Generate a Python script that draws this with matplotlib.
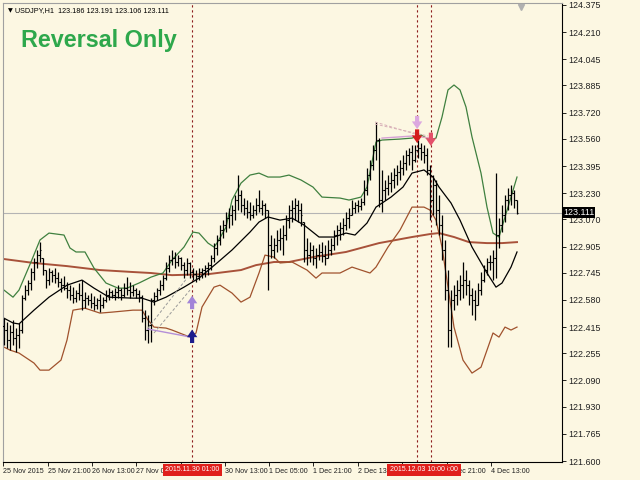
import matplotlib
matplotlib.use("Agg")
import matplotlib.pyplot as plt
import numpy as np

# ---- USDJPY H1 bars ----
highs = [122.469, 122.446, 122.428, 122.458, 122.409, 122.440, 122.610, 122.670, 122.701, 122.774,
         122.835, 122.884, 122.932, 122.835, 122.762, 122.774, 122.762, 122.774, 122.750, 122.713,
         122.725, 122.689, 122.670, 122.658, 122.640, 122.683, 122.701, 122.628, 122.610, 122.622,
         122.603, 122.591, 122.616, 122.597, 122.640, 122.652, 122.640, 122.652, 122.670, 122.652,
         122.683, 122.719, 122.689, 122.670, 122.652, 122.640, 122.610, 122.518, 122.488, 122.591,
         122.628, 122.652, 122.701, 122.731, 122.811, 122.853, 122.884, 122.872, 122.853, 122.841,
         122.811, 122.835, 122.811, 122.774, 122.762, 122.774, 122.774, 122.792, 122.811, 122.853,
         122.926, 122.975, 123.036, 123.066, 123.115, 123.139, 123.158, 123.218, 123.340, 123.249,
         123.200, 123.188, 123.176, 123.158, 123.200, 123.249, 123.188, 123.170, 123.127, 122.975,
         122.957, 123.005, 123.018, 123.036, 123.097, 123.158, 123.188, 123.200, 123.188, 123.170,
         123.054, 122.957, 122.932, 122.914, 122.896, 122.920, 122.932, 122.914, 122.945, 122.957,
         123.005, 123.036, 123.054, 123.078, 123.115, 123.139, 123.188, 123.176, 123.188, 123.200,
         123.310, 123.383, 123.431, 123.523, 123.663, 123.565, 123.371, 123.310, 123.340, 123.358,
         123.383, 123.401, 123.431, 123.462, 123.492, 123.504, 123.523, 123.523, 123.553, 123.535,
         123.523, 123.504, 123.401, 123.340, 123.310, 123.218, 123.097, 122.945, 122.762, 122.640,
         122.670, 122.701, 122.731, 122.811, 122.762, 122.701, 122.652, 122.640, 122.683, 122.750,
         122.792, 122.835, 122.853, 122.884, 123.352, 123.078, 123.158, 123.218, 123.261, 123.279,
         123.249, 123.191]
lows = [122.306, 122.287, 122.275, 122.306, 122.263, 122.287, 122.379, 122.579, 122.610, 122.640,
        122.701, 122.774, 122.811, 122.731, 122.652, 122.670, 122.689, 122.683, 122.658, 122.628,
        122.640, 122.591, 122.579, 122.561, 122.567, 122.579, 122.518, 122.530, 122.549, 122.530,
        122.518, 122.524, 122.506, 122.530, 122.567, 122.579, 122.591, 122.579, 122.591, 122.579,
        122.597, 122.610, 122.591, 122.603, 122.591, 122.567, 122.446, 122.336, 122.318, 122.324,
        122.549, 122.579, 122.610, 122.640, 122.701, 122.750, 122.792, 122.774, 122.786, 122.762,
        122.713, 122.731, 122.713, 122.701, 122.689, 122.701, 122.713, 122.719, 122.731, 122.762,
        122.811, 122.853, 122.914, 122.957, 122.993, 123.018, 123.036, 123.066, 123.127, 123.115,
        123.097, 123.078, 123.066, 123.078, 123.097, 123.115, 123.097, 123.078, 122.640, 122.835,
        122.835, 122.872, 122.884, 122.853, 122.945, 123.018, 123.054, 123.066, 123.054, 123.030,
        122.811, 122.792, 122.811, 122.792, 122.774, 122.823, 122.811, 122.792, 122.835, 122.853,
        122.884, 122.914, 122.945, 122.975, 123.005, 123.018, 123.097, 123.109, 123.115, 123.127,
        123.158, 123.218, 123.310, 123.371, 123.431, 123.145, 123.115, 123.188, 123.218, 123.237,
        123.261, 123.279, 123.310, 123.340, 123.371, 123.401, 123.371, 123.419, 123.444, 123.431,
        123.413, 123.340, 123.066, 123.097, 123.036, 122.975, 122.823, 122.579, 122.293, 122.293,
        122.518, 122.549, 122.579, 122.591, 122.610, 122.549, 122.488, 122.458, 122.549, 122.610,
        122.689, 122.731, 122.762, 122.701, 122.713, 122.896, 122.993, 123.054, 123.127, 123.158,
        123.139, 123.106]
closes = [122.397, 122.336, 122.385, 122.348, 122.367, 122.397, 122.591, 122.640, 122.683, 122.750,
          122.811, 122.853, 122.884, 122.762, 122.701, 122.750, 122.731, 122.713, 122.689, 122.670,
          122.652, 122.640, 122.610, 122.591, 122.622, 122.610, 122.579, 122.591, 122.579, 122.561,
          122.549, 122.579, 122.549, 122.579, 122.610, 122.628, 122.610, 122.628, 122.640, 122.610,
          122.652, 122.640, 122.628, 122.640, 122.616, 122.597, 122.470, 122.397, 122.428, 122.579,
          122.603, 122.640, 122.670, 122.713, 122.774, 122.823, 122.835, 122.811, 122.835, 122.792,
          122.762, 122.805, 122.750, 122.737, 122.725, 122.750, 122.762, 122.774, 122.792, 122.835,
          122.896, 122.945, 123.005, 123.036, 123.078, 123.097, 123.127, 123.188, 123.218, 123.158,
          123.139, 123.115, 123.097, 123.127, 123.158, 123.139, 123.158, 123.127, 122.914, 122.884,
          122.914, 122.945, 122.957, 122.975, 123.066, 123.127, 123.139, 123.158, 123.127, 123.097,
          122.884, 122.853, 122.884, 122.835, 122.853, 122.872, 122.847, 122.835, 122.884, 122.914,
          122.975, 123.005, 123.018, 123.036, 123.078, 123.097, 123.139, 123.158, 123.152, 123.176,
          123.249, 123.340, 123.401, 123.492, 123.553, 123.188, 123.249, 123.261, 123.291, 123.310,
          123.340, 123.358, 123.383, 123.413, 123.462, 123.480, 123.431, 123.492, 123.504, 123.480,
          123.462, 123.371, 123.188, 123.279, 123.127, 123.036, 122.884, 122.640, 122.397, 122.579,
          122.610, 122.640, 122.670, 122.701, 122.670, 122.610, 122.579, 122.549, 122.640, 122.701,
          122.762, 122.811, 122.811, 122.835, 122.975, 123.036, 123.097, 123.188, 123.218, 123.231,
          123.186, 123.111]
first_open = 122.420

# ---- indicator lines (bar index, price) ----
bb_up_idx = [0, 3, 5, 9, 12, 15, 20, 22, 24, 27, 30, 34, 38, 41, 45, 49, 53, 56, 60, 63, 65, 68, 70, 71,
             74, 76, 79, 82, 85, 88, 92, 95, 99, 103, 106, 112, 115, 119, 121, 123, 124, 126, 132, 136,
             139, 142, 144, 146, 148, 150, 152, 154, 156, 159, 161, 163, 165, 168, 170, 171]
bb_up = [122.640, 122.597, 122.640, 122.811, 122.945, 122.987, 122.975, 122.896, 122.872, 122.872,
         122.774, 122.683, 122.652, 122.652, 122.683, 122.719, 122.744, 122.823, 122.902, 122.993,
         122.987, 122.926, 122.902, 122.926, 123.023, 123.188, 123.291, 123.340, 123.352, 123.328,
         123.328, 123.340, 123.310, 123.267, 123.206, 123.200, 123.188, 123.206, 123.267, 123.450,
         123.541, 123.553, 123.559, 123.565, 123.584, 123.553, 123.565, 123.693, 123.858, 123.888,
         123.858, 123.754, 123.572, 123.352, 123.145, 122.987, 122.963, 123.145, 123.267, 123.328]
bb_mid_idx = [0, 3, 5, 10, 15, 21, 26, 30, 35, 43, 46, 50, 54, 60, 65, 71, 76, 82, 85, 88, 92, 96, 100,
              105, 110, 114, 117, 121, 124, 129, 133, 136, 140, 143, 145, 149, 152, 156, 161, 164, 166,
              169, 171]
bb_mid = [122.469, 122.440, 122.434, 122.518, 122.597, 122.670, 122.701, 122.652, 122.597, 122.591,
          122.591, 122.567, 122.597, 122.658, 122.713, 122.805, 122.884, 122.993, 123.054, 123.085,
          123.066, 123.078, 123.036, 122.963, 122.963, 122.987, 122.975, 123.048, 123.145, 123.206,
          123.267, 123.352, 123.371, 123.328, 123.267, 123.170, 123.066, 122.902, 122.744, 122.658,
          122.683, 122.780, 122.872]
bb_low_idx = [0, 2, 5, 10, 12, 15, 19, 21, 23, 27, 32, 36, 43, 46, 48, 50, 54, 56, 62, 64, 66, 70, 72,
              76, 79, 82, 85, 87, 90, 92, 96, 101, 104, 106, 112, 116, 122, 124, 128, 132, 136, 140,
              142, 144, 146, 148, 150, 153, 156, 159, 161, 163, 165, 167, 169, 171]
bb_low = [122.293, 122.275, 122.257, 122.196, 122.153, 122.153, 122.214, 122.336, 122.518, 122.530,
          122.500, 122.506, 122.518, 122.518, 122.458, 122.415, 122.409, 122.397, 122.354, 122.379,
          122.537, 122.658, 122.670, 122.622, 122.567, 122.597, 122.744, 122.853, 122.841, 122.805,
          122.811, 122.762, 122.713, 122.744, 122.744, 122.780, 122.744, 122.780, 122.902, 123.005,
          123.145, 123.145, 123.127, 123.066, 122.902, 122.658, 122.415, 122.214, 122.135, 122.171,
          122.275, 122.379, 122.354, 122.415, 122.397, 122.415]
ma_idx = [0, 10, 21, 32, 43, 49, 56, 68, 79, 84, 90, 95, 103, 114, 125, 136, 142, 145, 150, 155, 161,
          166, 171]
ma_long = [122.829, 122.805, 122.786, 122.762, 122.750, 122.744, 122.731, 122.737, 122.762, 122.792,
           122.811, 122.811, 122.841, 122.872, 122.926, 122.963, 122.981, 122.987, 122.963, 122.932,
           122.926, 122.926, 122.932]

# signal lines / arrows
signal_idx = [62.7, 137.7, 142.3]
signal_labels = ["2015.11.30 01:00", "2015.12.03 10:00", "2015.12.03 15:00"]
price_ticks = [124.375, 124.210, 124.045, 123.885, 123.720, 123.560, 123.395, 123.230, 123.070,
               122.905, 122.745, 122.580, 122.415, 122.255, 122.090, 121.930, 121.765, 121.600]
time_tick_idx = [-0.33, 14.67, 29.33, 44, 59, 73.67, 88.33, 103, 118, 132.67, 147.67, 162.33]
time_labels = ["25 Nov 2015", "25 Nov 21:00", "26 Nov 13:00", "27 Nov 05:00", "",
               "30 Nov 13:00", "1 Dec 05:00", "1 Dec 21:00", "2 Dec 13:00", "",
               "3 Dec 21:00", "4 Dec 13:00"]
last_price = 123.111

BG = "#fcf7e2"
UI_FONT = "Liberation Sans"
fig = plt.figure(figsize=(6.4, 4.8), dpi=100, facecolor=BG)
ax = fig.add_axes([3 / 640, 18 / 480, 559 / 640, 459 / 480], facecolor=BG)

x = np.arange(len(closes))
hi = np.array(highs)
lo = np.array(lows)
cl = np.array(closes)
op = np.clip(np.array([first_open] + closes[:-1]), lo, hi)

ax.axhline(last_price, color="#b4b4b4", lw=0.8, zorder=1)
for xi in signal_idx:
    ax.axvline(xi, color="#8b1a1a", lw=0.8, ls=(0, (2, 2.5)), zorder=1)

ax.plot(ma_idx, ma_long, color="#a8523a", lw=1.4, zorder=2)
ax.plot(bb_up_idx, bb_up, color="#3f803f", lw=0.9, zorder=2)
ax.plot(bb_low_idx, bb_low, color="#a0522d", lw=0.9, zorder=2)
ax.plot(bb_mid_idx, bb_mid, color="black", lw=0.9, zorder=2)

ax.vlines(x, lo, hi, color="black", lw=0.9, zorder=3)
ax.hlines(op, x - 0.5, x, color="black", lw=0.8, zorder=3)
ax.hlines(cl, x, x + 0.5, color="black", lw=0.8, zorder=3)

# pattern lines
ax.plot([48, 62.3], [122.403, 122.354], color="#b48fd8", lw=1.0, zorder=4)
ax.plot([48, 61], [122.409, 122.713], color="#9a9a9a", lw=0.7, ls=(0, (3, 2)), zorder=4)
ax.plot([50, 62], [122.379, 122.640], color="#9a9a9a", lw=0.7, ls=(0, (3, 2)), zorder=4)
ax.plot([126, 136.5], [123.565, 123.578], color="#d6a0d6", lw=1.0, zorder=4)
ax.plot([139, 142], [123.572, 123.565], color="#e8a0c0", lw=1.0, zorder=4)
ax.plot([123.7, 137], [123.663, 123.590], color="#d8b0b8", lw=0.7, ls=(0, (3, 2)), zorder=4)
ax.plot([123.7, 141.3], [123.650, 123.578], color="#d8b0b8", lw=0.7, ls=(0, (3, 2)), zorder=4)


def arrow(xi, tail, head, color):
    ax.annotate("", xy=(xi, head), xytext=(xi, tail), zorder=5,
                arrowprops=dict(arrowstyle="simple,head_width=0.75,head_length=0.55,tail_width=0.3",
                                color=color, lw=0, shrinkA=0, shrinkB=0))


arrow(62.7, 122.318, 122.400, "#1c1c8c")
arrow(62.7, 122.524, 122.606, "#a284d8")
arrow(137.7, 123.700, 123.620, "#dca8e0")
arrow(137.7, 123.618, 123.535, "#d41c1c")
arrow(142.3, 123.598, 123.517, "#e4506a")

ax.set_xlim(-0.333, 186)
ax.set_ylim(121.594, 124.387)

ax.yaxis.tick_right()
ax.set_yticks(price_ticks)
ax.set_yticklabels(["%.3f" % p for p in price_ticks], fontsize=6.4, color="#202020", family=UI_FONT)
ax.set_xticks(time_tick_idx)
ax.set_xticklabels(time_labels, fontsize=5.1, color="#202020", ha="left", family=UI_FONT)
ax.tick_params(axis="both", direction="out", length=3, width=0.6, pad=1.5)
for s in ["left", "top"]:
    ax.spines[s].set_color("#a0a0a0")
    ax.spines[s].set_linewidth(0.8)
for s in ["right", "bottom"]:
    ax.spines[s].set_color("black")
    ax.spines[s].set_linewidth(0.8)

# current price tag
ax.text(1.002, last_price, "%.3f" % last_price, transform=ax.get_yaxis_transform(),
        fontsize=6.4, color="white", va="center", ha="left", zorder=10, clip_on=False,
        family=UI_FONT, bbox=dict(boxstyle="square,pad=0.12", fc="black", ec="none"))

# red time tags for the signal bars (later one first so the earlier one sits on top)
for xi, lab in sorted(zip(signal_idx, signal_labels), reverse=True):
    ax.text(xi, -0.017, lab, transform=ax.get_xaxis_transform(), fontsize=5.0, color="white",
            ha="center", va="center", zorder=10, clip_on=False, family=UI_FONT,
            bbox=dict(boxstyle="square,pad=0.35", fc="#e0201c", ec="none"))

# chart shift marker
ax.plot([172.3], [124.36], marker="v", color="#b0b0b0", ms=4, clip_on=False, zorder=6)

fig.text(8 / 640, 1 - 11 / 480, "\u25bc", fontsize=4.5, color="black", va="center", ha="left")
fig.text(15 / 640, 1 - 11 / 480, "USDJPY,H1  123.186 123.191 123.106 123.111",
         fontsize=5.2, color="black", va="center", ha="left", family=UI_FONT)
fig.text(21 / 640, 1 - 40 / 480, "Reversal Only", fontsize=16.8, fontweight="bold",
         family=UI_FONT, color="#2ea84c", va="center", ha="left")

fig.savefig("out.png", dpi=100, facecolor=BG)
